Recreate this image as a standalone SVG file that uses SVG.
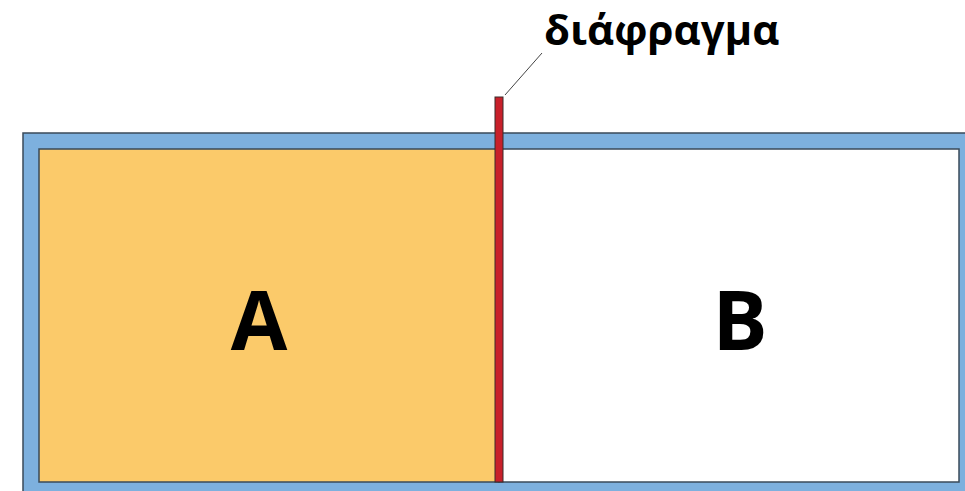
<svg xmlns="http://www.w3.org/2000/svg" width="965" height="491" viewBox="0 0 965 491">
<style>
.frame{stroke:#3a4a5a;stroke-width:1.5}
.lbl{font-family:"Open Sans","Liberation Sans",sans-serif;font-weight:bold;fill:#000}
</style>
<rect width="965" height="491" fill="#fff"/>
<g id="container">
<rect class="frame" x="23" y="133" width="950" height="370" fill="#7DB0DE"/>
</g>
<g id="A">
<rect class="frame" x="39" y="149" width="460" height="333" fill="#FBCA6A"/>
<text class="lbl" x="259" y="350" font-size="82" text-anchor="middle">A</text>
</g>
<g id="B">
<rect class="frame" x="499" y="149" width="460" height="333" fill="#fff"/>
<text class="lbl" x="740" y="350" font-size="82" text-anchor="middle">B</text>
</g>
<g id="diaphragm">
<rect x="495" y="97" width="8" height="385" fill="#C8202A" stroke="#3a2a2a" stroke-width="1"/>
</g>
<g id="connectors">
<line x1="505" y1="95" x2="542" y2="53" stroke="#444" stroke-width="1"/>
</g>
<g id="label">
<text class="lbl" x="544" y="45" font-size="42">διάφραγμα</text>
</g>
</svg>
